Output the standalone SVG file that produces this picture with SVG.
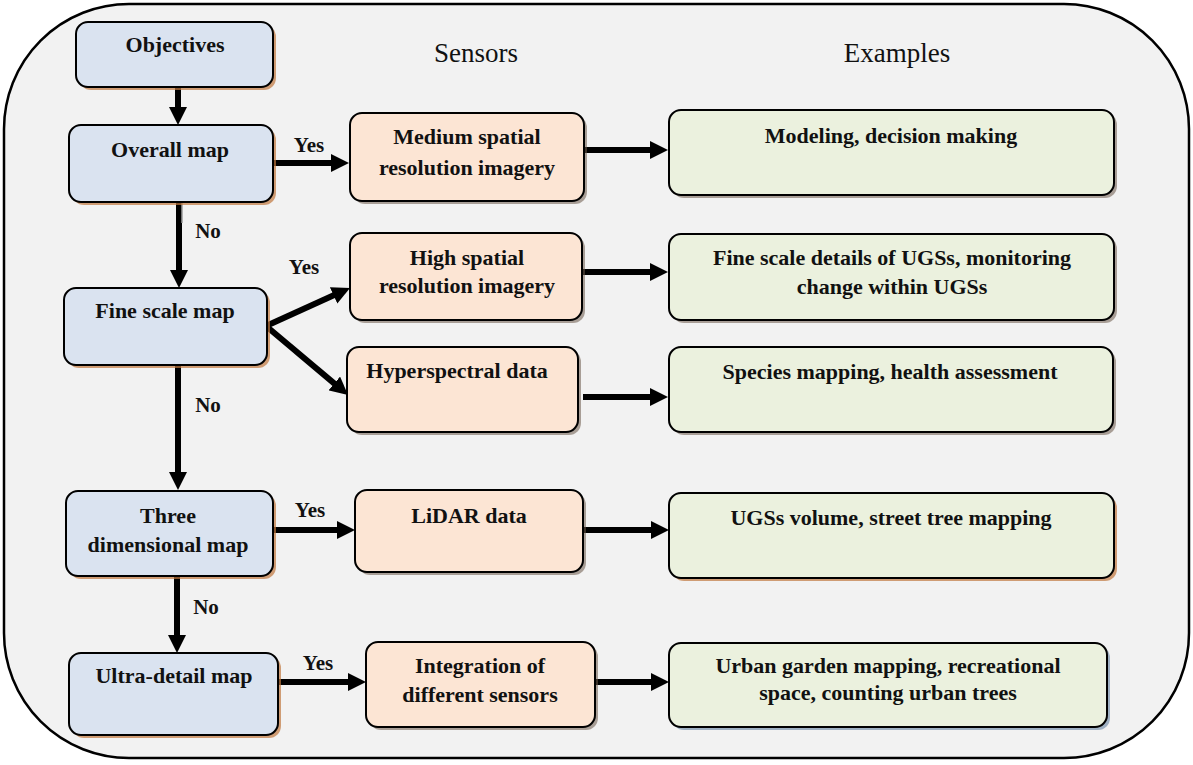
<svg xmlns="http://www.w3.org/2000/svg" width="1193" height="765" viewBox="0 0 1193 765">
<style>
.frame{fill:#f2f2f2;stroke:#000;stroke-width:2.5}
.box{stroke:#000;stroke-width:2}
.blue{fill:#dae3f0}
.orange{fill:#fce5d4}
.green{fill:#ebf1de}
.sh{fill:#6b5a4a;opacity:0.55}
.shb{fill:#c0783f;opacity:0.7}
.t{font-family:"Liberation Serif","Times New Roman",serif;font-weight:bold;font-size:22px;fill:#111;text-anchor:middle}
.h{font-family:"Liberation Serif","Times New Roman",serif;font-size:27px;fill:#111;text-anchor:middle}
.lbl{font-family:"Liberation Serif","Times New Roman",serif;font-weight:bold;font-size:21px;fill:#111;text-anchor:middle}
.c{stroke:#000;stroke-width:6;fill:none;marker-end:url(#ah)}
</style>
<defs>
<marker id="ah" viewBox="0 0 18 18" refX="8" refY="9" markerWidth="18" markerHeight="18" markerUnits="userSpaceOnUse" orient="auto">
<path d="M0,0 L18,9 L0,18 z" fill="#000"/>
</marker>
</defs>
<rect class="frame" x="4" y="4" width="1185" height="754" rx="125" ry="125"/>
<text class="h" x="476" y="62">Sensors</text>
<text class="h" x="897" y="62">Examples</text>

<g id="connectors">
<line class="c" x1="178" y1="87" x2="178" y2="115"/>
<line class="c" x1="179" y1="202" x2="179" y2="278"/>
<line x1="182" y1="197" x2="182" y2="223" stroke="#9a9a9a" stroke-width="1.5"/>
<line class="c" x1="178" y1="365" x2="178" y2="480"/>
<line class="c" x1="177" y1="576" x2="177" y2="643"/>
<line class="c" x1="273" y1="163" x2="339" y2="163"/>
<line class="c" x1="584" y1="150" x2="658" y2="150"/>
<line class="c" x1="266" y1="326" x2="340.9" y2="292.1"/>
<line class="c" x1="266" y1="326" x2="340.4" y2="388.6"/>
<line class="c" x1="583" y1="272" x2="658" y2="272"/>
<line class="c" x1="583" y1="397" x2="658" y2="397"/>
<line class="c" x1="273" y1="530" x2="345" y2="530"/>
<line class="c" x1="583" y1="530" x2="659" y2="530"/>
<line class="c" x1="278" y1="682" x2="356" y2="682"/>
<line class="c" x1="595" y1="682" x2="659" y2="682"/>
<text class="lbl" x="309" y="152">Yes</text>
<text class="lbl" x="208" y="238">No</text>
<text class="lbl" x="304" y="274">Yes</text>
<text class="lbl" x="208" y="412">No</text>
<text class="lbl" x="310" y="517">Yes</text>
<text class="lbl" x="206" y="614">No</text>
<text class="lbl" x="318" y="670">Yes</text>
</g>

<g id="objectives">
<rect class="shb" x="79" y="25" width="197" height="65" rx="12"/>
<rect class="box blue" x="76" y="22" width="197" height="65" rx="12"/>
<text class="t" x="175" y="52">Objectives</text>
</g>
<g id="overall-map">
<rect class="shb" x="72" y="128" width="204" height="77" rx="12"/>
<rect class="box blue" x="69" y="125" width="204" height="77" rx="12"/>
<text class="t" x="170" y="157">Overall map</text>
</g>
<g id="fine-scale-map">
<rect class="shb" x="67" y="291" width="203" height="77" rx="12"/>
<rect class="box blue" x="64" y="288" width="203" height="77" rx="12"/>
<text class="t" x="165" y="318">Fine scale map</text>
</g>
<g id="three-dimensional-map">
<rect class="shb" x="69" y="494" width="207" height="85" rx="12"/>
<rect class="box blue" x="66" y="491" width="207" height="85" rx="12"/>
<text class="t" x="168" y="523">Three</text>
<text class="t" x="168" y="552">dimensional map</text>
</g>
<g id="ultra-detail-map">
<rect class="shb" x="72" y="656" width="209" height="82" rx="12"/>
<rect class="box blue" x="69" y="653" width="209" height="82" rx="12"/>
<text class="t" x="174" y="683">Ultra-detail map</text>
</g>

<g id="medium-spatial">
<rect class="sh" x="353" y="116" width="234" height="88" rx="12"/>
<rect class="box orange" x="350" y="113" width="234" height="88" rx="12"/>
<text class="t" x="467" y="144">Medium spatial</text>
<text class="t" x="467" y="175">resolution imagery</text>
</g>
<g id="high-spatial">
<rect class="sh" x="353" y="236" width="232" height="87" rx="12"/>
<rect class="box orange" x="350" y="233" width="232" height="87" rx="12"/>
<text class="t" x="467" y="265">High spatial</text>
<text class="t" x="467" y="293">resolution imagery</text>
</g>
<g id="hyperspectral">
<rect class="sh" x="350" y="350" width="231" height="85" rx="12"/>
<rect class="box orange" x="347" y="347" width="231" height="85" rx="12"/>
<text class="t" x="457" y="378">Hyperspectral data</text>
</g>
<g id="lidar">
<rect class="sh" x="358" y="493" width="228" height="82" rx="12"/>
<rect class="box orange" x="355" y="490" width="228" height="82" rx="12"/>
<text class="t" x="469" y="523">LiDAR data</text>
</g>
<g id="integration">
<rect class="sh" x="369" y="645" width="229" height="85" rx="12"/>
<rect class="box orange" x="366" y="642" width="229" height="85" rx="12"/>
<text class="t" x="480" y="673">Integration of</text>
<text class="t" x="480" y="702">different sensors</text>
</g>

<g id="modeling">
<rect class="sh" x="672" y="113" width="445" height="85" rx="12"/>
<rect class="box green" x="669" y="110" width="445" height="85" rx="12"/>
<text class="t" x="891" y="143">Modeling, decision making</text>
</g>
<g id="fine-details">
<rect class="sh" x="672" y="237" width="445" height="86" rx="12"/>
<rect class="box green" x="669" y="234" width="445" height="86" rx="12"/>
<text class="t" x="892" y="265">Fine scale details of UGSs, monitoring</text>
<text class="t" x="892" y="294">change within UGSs</text>
</g>
<g id="species">
<rect class="sh" x="672" y="350" width="444" height="85" rx="12"/>
<rect class="box green" x="669" y="347" width="444" height="85" rx="12"/>
<text class="t" x="890" y="379">Species mapping, health assessment</text>
</g>
<g id="ugss-volume">
<rect class="shb" x="672" y="496" width="445" height="85" rx="12"/>
<rect class="box green" x="669" y="493" width="445" height="85" rx="12"/>
<text class="t" x="891" y="525">UGSs volume, street tree mapping</text>
</g>
<g id="urban-garden">
<rect class="sh" x="672" y="646" width="438" height="84" rx="12" style="fill:#5a7a9a"/>
<rect class="box green" x="669" y="643" width="438" height="84" rx="12"/>
<text class="t" x="888" y="673">Urban garden mapping, recreational</text>
<text class="t" x="888" y="700">space, counting urban trees</text>
</g>
</svg>
